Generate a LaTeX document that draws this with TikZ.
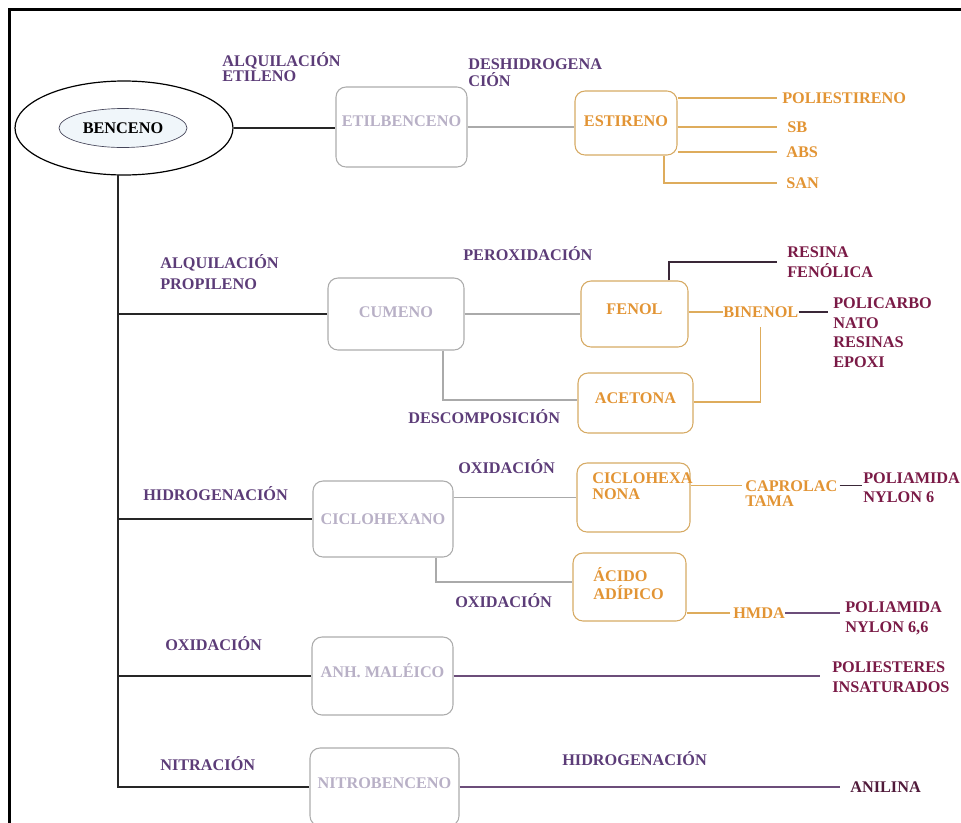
\documentclass[tikz,border=0pt]{standalone}
\usepackage{fontspec}
\setmainfont{Liberation Serif}
\usetikzlibrary{shapes.geometric,calc}

\definecolor{proc}{RGB}{92,60,120}
\definecolor{boxgray}{RGB}{172,172,172}
\definecolor{txtgray}{RGB}{184,176,198}
\definecolor{linegray}{RGB}{170,170,170}
\definecolor{orborder}{RGB}{214,170,100}
\definecolor{ortext}{RGB}{226,148,52}
\definecolor{orline}{RGB}{222,172,92}
\definecolor{crimson}{RGB}{122,26,70}
\definecolor{anil}{RGB}{80,26,58}
\definecolor{darkln}{RGB}{58,40,56}
\definecolor{purpln}{RGB}{108,78,122}
\definecolor{innerfill}{RGB}{240,246,250}
\definecolor{innerline}{RGB}{70,70,90}

\begin{document}
\begin{tikzpicture}[x=0.75pt,y=-0.75pt,
  every node/.style={font=\bfseries\fontsize{12.2}{15}\selectfont, inner sep=0pt},
  sz/.style 2 args={minimum width=#1*0.75pt, minimum height=#2*0.75pt},
  up/.style={text depth=#1*1.5pt},
  box/.style={draw, rounded corners=7.5pt, line width=0.8pt, text height=7.5pt, text depth=0pt},
  graybox/.style={box, draw=boxgray, text=txtgray},
  orbox/.style={box, draw=orborder, text=ortext},
  lines/.style={font=\bfseries\fontsize{12.2}{#1}\selectfont},
  proclbl/.style={anchor=base west, align=left, text=proc},
  orlbl/.style={anchor=base west, align=left, text=ortext},
  prodlbl/.style={anchor=base west, align=left, text=crimson},
  single/.style={anchor=west, text height=7.5pt, text depth=0pt},
  trunk/.style={draw=black!85, line width=1.4pt},
  grayln/.style={draw=linegray, line width=0.8pt},
  orln/.style={draw=orline, line width=0.9pt},
  darkconn/.style={draw=darkln, line width=1.1pt},
  purpconn/.style={draw=purpln, line width=1.3pt},
  gapto/.style={shorten >=#1*0.75pt}
]
\useasboundingbox (0,0) rectangle (961,822);
\clip (0,0) rectangle (961,822);

% outer frame
\draw[line width=2.25pt] (9,840) -- (9,9) -- (975,9);

% benzene
\node[ellipse, draw, line width=0.9pt, sz={218}{94}] (ben) at (124,128) {};
\node[ellipse, draw=innerline, line width=0.5pt, fill=innerfill, sz={128}{39},
      text height=7.5pt, text depth=0pt] (benin) at (123,128) {BENCENO};

% first-level intermediates
\node[graybox, sz={131}{80}, up=6] (etb) at (401.5,127) {ETILBENCENO};
\node[graybox, sz={136}{72}, up=2] (cum) at (396,314) {CUMENO};
\node[graybox, sz={140}{76}] (cic) at (383,519) {CICLOHEXANO};
\node[graybox, sz={141}{78}, up=4] (anh) at (382.5,676) {ANH. MALÉICO};
\node[graybox, sz={149}{78}, up=4] (nit) at (384.5,787) {NITROBENCENO};

% second-level intermediates
\node[orbox, sz={102}{64}, up=2] (est) at (626,123) {ESTIRENO};
\node[orbox, sz={107}{66}, up=5] (fen) at (634.5,314) {FENOL};
\node[orbox, sz={115}{60}, up=5] (ace) at (635.5,403) {ACETONA};
\node[orbox, sz={113}{69}] (cnona) at (633.5,497.5) {};
\node[orlbl, lines=12] (cnonatxt) at (592,499.5) {CICLOHEXA\\NONA};
\node[orbox, sz={113}{68}] (acid) at (629.5,587) {};
\node[orlbl, lines=13.5] (acidtxt) at (593,599.5) {ÁCIDO\\ADÍPICO};

% reaction labels (multi-line ones are placed by the baseline of their last line)
\node[proclbl, lines=11] (l1) at (222,81.5) {ALQUILACIÓN\\ETILENO};
\node[proclbl, lines=13] (l2) at (468,86.5) {DESHIDROGENA\\CIÓN};
\node[proclbl, lines=15.75] (l3) at (160,289.5) {ALQUILACIÓN\\PROPILENO};
\node[proclbl] (l4) at (463,260.5) {PEROXIDACIÓN};
\node[proclbl] (l5) at (408,423.5) {DESCOMPOSICIÓN};
\node[proclbl] (l6) at (143,500.5) {HIDROGENACIÓN};
\node[proclbl] (l7) at (458,473.5) {OXIDACIÓN};
\node[proclbl] (l8) at (455,607.5) {OXIDACIÓN};
\node[proclbl] (l9) at (165,650.5) {OXIDACIÓN};
\node[proclbl] (l10) at (160,770.5) {NITRACIÓN};
\node[proclbl] (l11) at (562,765.5) {HIDROGENACIÓN};

% styrene products
\node[single, text=ortext] (ps) at (782,98) {POLIESTIRENO};
\node[single, text=ortext] (sb) at (787,127) {SB};
\node[single, text=ortext] (abs) at (786,152) {ABS};
\node[single, text=ortext] (san) at (786,183) {SAN};

% phenol / acetone products
\node[single, text=ortext] (bin) at (723,312) {BINENOL};
\node[prodlbl, lines=15] (res) at (787,277.5) {RESINA\\FENÓLICA};
\node[prodlbl, lines=14.8] (pol) at (833,367.5) {POLICARBO\\NATO\\RESINAS\\EPOXI};

% cyclohexane products
\node[orlbl, lines=11.25] (cap) at (745,506.5) {CAPROLAC\\TAMA};
\node[prodlbl, lines=14.25] (pa1) at (863,502.5) {POLIAMIDA\\NYLON 6};
\node[single, text=ortext] (hmda) at (733,613) {HMDA};
\node[prodlbl, lines=15] (pa2) at (845,632.5) {POLIAMIDA\\NYLON 6,6};

% maleic anhydride and nitrobenzene products
\node[prodlbl, lines=15] (pes) at (832,692.5) {POLIESTERES\\INSATURADOS};
\node[single, text=anil] (ani) at (850,787) {ANILINA};

% trunk and branches from benzene
\coordinate (trtop) at (118,175);
\draw[trunk] (ben.east) -- (ben.east -| etb.west);
\draw[trunk] (trtop) |- (nit.west);
\draw[trunk] (trtop |- cum.west) -- (cum.west);
\draw[trunk] (trtop |- cic.west) -- (cic.west);
\draw[trunk] (trtop |- anh.west) -- (anh.west);

% ethylbenzene -> styrene -> polymers
\draw[grayln] (etb.east) -- (etb.east -| est.west);
\draw[orln, gapto=5] (est.east |- ps.west) -- (ps.west);
\draw[orln, gapto=10] (est.east |- sb.west) -- (sb.west);
\draw[orln, gapto=9] (est.east |- abs.west) -- (abs.west);
\draw[orln, gapto=9] ($(est.south)+(38,0)$) |- (san.west);

% cumene -> phenol, acetone
\draw[grayln] (cum.east) -- (cum.east -| fen.west);
\draw[grayln] ($(cum.south)+(47,0)$) |- ($(ace.west)+(0,-3)$);
\draw[darkconn, gapto=10] ($(fen.north)+(34.5,0)$) |- (res.west);
\draw[orln] (fen.east |- bin.west) -- (bin.west);
\draw[orln] ($(ace.east)+(0,-1)$) -| ($(bin.south)+(0,10)$);
\draw[darkconn, gapto=5] (bin.east) -- (bin.east -| pol.west);

% cyclohexane -> cyclohexanone, adipic acid
\draw[grayln] (cnona.west -| cic.east) -- (cnona.west);
\draw[grayln] ($(cic.south)+(53,0)$) |- ($(acid.west)+(0,-5)$);
\coordinate (capL) at ($(cap.base west)+(-3,-21)$);
\draw[orln] (capL -| cnona.east) -- (capL);
\coordinate (capR) at ($(cap.base east)+(2,-21)$);
\draw[darkconn, gapto=1] (capR) -- (capR -| pa1.west);
\draw[orln, gapto=3] (acid.east |- hmda.west) -- (hmda.west);
\draw[purpconn, gapto=5] (hmda.east) -- (hmda.east -| pa2.west);

% maleic anhydride, nitrobenzene
\draw[purpconn, gapto=12] (anh.east) -- (anh.east -| pes.west);
\draw[purpconn, gapto=10] (nit.east) -- (ani.west);
\end{tikzpicture}
\end{document}
